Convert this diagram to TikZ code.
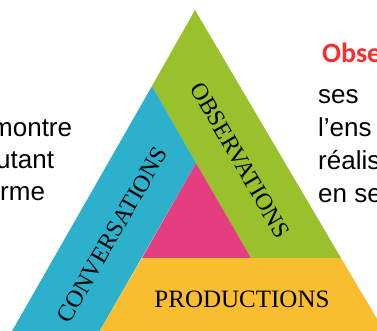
\documentclass[tikz,border=0pt]{standalone}
\usepackage{fontspec}
\setmainfont{Liberation Serif}
\newfontfamily\slidefont{Liberation Sans}
\newfontfamily\headfont{Carlito}
\usetikzlibrary{calc}
\definecolor{bandgreen}{RGB}{152,193,44}
\definecolor{bandblue}{RGB}{45,176,204}
\definecolor{bandpink}{RGB}{229,62,128}
\definecolor{bandyellow}{RGB}{249,190,48}
\definecolor{headred}{RGB}{250,45,45}
\tikzstyle{band}=[draw=none]
\tikzstyle{bandtext}=[font=\fontsize{24}{24}\selectfont, inner sep=0pt]
\tikzstyle{slidetext}=[font=\slidefont\fontsize{26}{28}\selectfont, anchor=base west, inner sep=0pt]

\begin{document}
\begin{tikzpicture}[x=1pt,y=-1pt]
    \useasboundingbox (0,0) rectangle (377,330);
    \clip (0,0) rectangle (377,330);

    % First the corners of the triangle and of its bands
    \coordinate (apex) at (195,10);
    \coordinate (gl) at (152,86);
    \coordinate (pink) at (196,163);
    \coordinate (pl) at (142,258);
    \coordinate (pr) at (251,258);
    \coordinate (gr) at (341,258);
    \coordinate (bl) at (6.9,340);
    \coordinate (bm) at (94.5,340);
    \coordinate (br) at (389.7,340);

    % Then the four coloured parts
    \path[band, fill=bandgreen] (apex) -- (gr) -- (pr) -- (pink) -- (gl) -- cycle;
    \path[band, fill=bandblue] (gl) -- (pink) -- (bm) -- (bl) -- cycle;
    \path[band, fill=bandpink] (pink) -- (pl) -- (pr) -- cycle;
    \path[band, fill=bandyellow] (pl) -- (gr) -- (br) -- (bm) -- cycle;

    % Words along the bands
    \node[bandtext, rotate=60] (conv) at (112,235) {CONVERSATIONS};
    \node[bandtext, rotate=-60] (obs) at (240,160) {OBSERVATIONS};
    \node[bandtext, font=\fontsize{25}{25}\selectfont] (prod) at (242,299.5) {PRODUCTIONS};

    % Slide text cut off at both sides
    \foreach \pos/ \txt [count=\i] in {{(-9,136)/montre},{(-4,168)/utant},{(0,200)/rme}}
        \node[slidetext] (left\i) at \pos {\txt};

    \node[slidetext, font=\headfont\bfseries\fontsize{28}{30}\selectfont, text=headred] (head) at (322,62) {Obse};
    \foreach \pos/ \txt [count=\i] in {{(318,103)/ses},{(318,136)/l’ens},{(318,169)/réalis},{(318,202)/en se}}
        \node[slidetext] (right\i) at \pos {\txt};

\end{tikzpicture}
\end{document}
